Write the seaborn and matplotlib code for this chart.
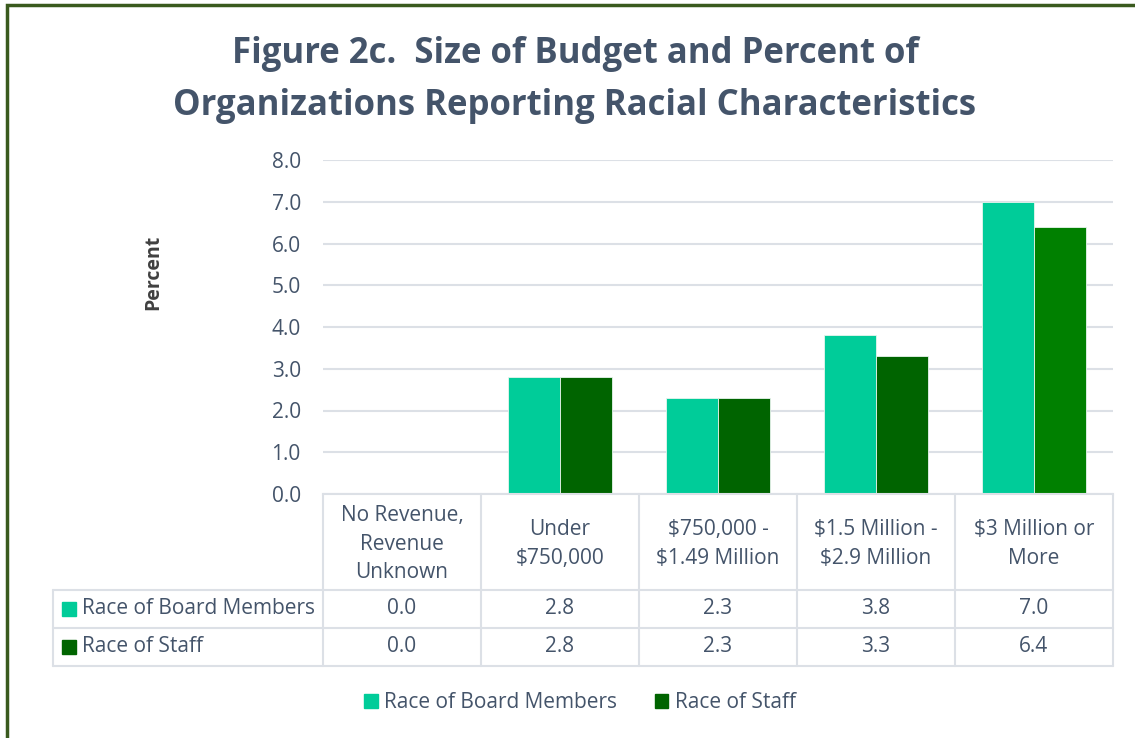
import pandas as pd
import matplotlib.pyplot as plt
import seaborn as sns
from matplotlib.patches import Rectangle, Patch

# data
categories = ['No Revenue,\nRevenue\nUnknown', 'Under\n$750,000', '$750,000 -\n$1.49 Million',
              '$1.5 Million -\n$2.9 Million', '$3 Million or\nMore']
series = ['Race of Board Members', 'Race of Staff']
board = [0.0, 2.8, 2.3, 3.8, 7.0]
staff = [0.0, 2.8, 2.3, 3.3, 6.4]
yticks = [0, 1, 2, 3, 4, 5, 6, 7, 8]

df = pd.DataFrame({
    'Category': categories * 2,
    'Series': [series[0]] * 5 + [series[1]] * 5,
    'Value': board + staff,
})

sns.set_theme(style='white')
plt.rcParams['font.family'] = ['Open Sans', 'DejaVu Sans']

TXT = '#44546A'
GRID = '#DCE0E6'
light = '#00CC99'
dark = '#006400'
FS = 15

W, H = 1135, 738
fig = plt.figure(figsize=(W / 100, H / 100), dpi=100)

def px_rect(x0, y0, x1, y1):
    return [x0 / W, 1 - y1 / H, (x1 - x0) / W, (y1 - y0) / H]

ax = fig.add_axes(px_rect(323, 160, 1113, 494))
sns.barplot(data=df, x='Category', y='Value', hue='Series', order=categories,
            palette=[light, dark], width=0.66, saturation=1, ax=ax,
            edgecolor='#E8F5EE', linewidth=0.6, legend=False)
# last staff bar is a brighter green in the original
ax.patches[-1].set_facecolor('#008000')

ax.set_xlim(-0.5, 4.5)
ax.set_ylim(0, 8)
ax.set_yticks(yticks)
ax.set_yticklabels([f'{v:.1f}' for v in yticks], color=TXT, fontsize=FS)
ax.tick_params(axis='y', pad=16, length=0)
ax.set_xticks([])
ax.set_xlabel('')
ax.set_ylabel('')
ax.grid(axis='y', color=GRID, linewidth=1.5)
ax.set_axisbelow(True)
for s in ['top', 'right', 'left']:
    ax.spines[s].set_visible(False)
ax.spines['bottom'].set_color(GRID)
ax.spines['bottom'].set_linewidth(1.5)

fig.text(153 / W, 1 - 272 / H, 'Percent', rotation=90, ha='center', va='center',
         fontsize=14, fontweight='bold', color='#404040')

fig.text(575 / W, 1 - 80 / H, 'Figure 2c.  Size of Budget and Percent of\nOrganizations Reporting Racial Characteristics',
         ha='center', va='center', fontsize=25, fontweight='bold', color=TXT, linespacing=1.6)

# data table below the plot
tax = fig.add_axes(px_rect(53, 494, 1113, 666))
left = -0.5 - (323 - 53) / 158
tax.set_xlim(left, 4.5)
tax.set_ylim(0, 172)
tax.axis('off')
kw = dict(color=GRID, linewidth=1.5, clip_on=False)
for i in range(6):
    tax.plot([i - 0.5, i - 0.5], [0, 172], **kw)
tax.plot([left, left], [0, 76], **kw)
for yy in [0, 38, 76]:
    tax.plot([left, 4.5], [yy, yy], **kw)
for i, c in enumerate(categories):
    tax.text(i, 122, c, ha='center', va='center', fontsize=FS, color=TXT, linespacing=1.5)
for row_y, name, vals, col in [(57, series[0], board, light), (19, series[1], staff, dark)]:
    tax.add_patch(Rectangle((left + 9 / 158, row_y - 7), 14 / 158, 14, color=col, clip_on=False))
    tax.text(left + 29 / 158, row_y, name, ha='left', va='center', fontsize=FS, color=TXT)
    for i, v in enumerate(vals):
        tax.text(i, row_y, f'{v:.1f}', ha='center', va='center', fontsize=FS, color=TXT)

handles = [Patch(color=light, label=series[0]), Patch(color=dark, label=series[1])]
fig.legend(handles=handles, loc='center', bbox_to_anchor=(580 / W, 1 - 703 / H), ncol=2,
           frameon=False, fontsize=FS, labelcolor=TXT, handlelength=0.65, handleheight=0.65,
           handletextpad=0.3, columnspacing=1.8)

# figure border (only left and top visible in the original)
fig.patches.append(Rectangle((7 / W, -0.1), 1.2, 1 - 5 / H + 0.1, transform=fig.transFigure,
                             fill=False, edgecolor='#3A5A1E', linewidth=2.5))

fig.savefig('out.png', dpi=100)
